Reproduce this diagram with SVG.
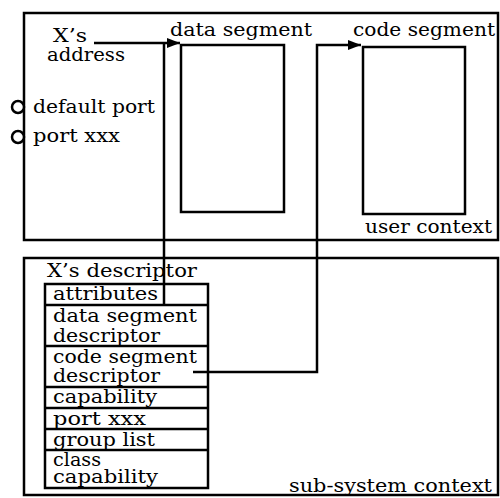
<svg xmlns="http://www.w3.org/2000/svg" width="500" height="498" viewBox="0 0 500 498">
<style>
.t{font-family:"DejaVu Serif","Liberation Serif",serif;font-size:19px;fill:#000}
.box{fill:none;stroke:#000;stroke-width:2.5}
.ln{fill:none;stroke:#000;stroke-width:2.5}
.port{fill:#fff;stroke:#000;stroke-width:2.5}
</style>
<defs>
<marker id="arr" markerWidth="14" markerHeight="10" refX="13" refY="5" orient="auto" markerUnits="userSpaceOnUse">
<path d="M0,0 L13,5 L0,10 Z" fill="#000"/>
</marker>
</defs>
<rect width="500" height="498" fill="#fff"/>
<g id="user-context">
<rect class="box" x="24" y="13" width="474" height="227"/>
<text class="t" x="365" y="233" textLength="127" lengthAdjust="spacingAndGlyphs">user context</text>
</g>
<g id="sub-system-context">
<rect class="box" x="24" y="258" width="474" height="237"/>
<text class="t" x="289" y="492" textLength="203" lengthAdjust="spacingAndGlyphs">sub-system context</text>
</g>
<g id="xs-address">
<text class="t" x="53" y="42" textLength="34" lengthAdjust="spacingAndGlyphs">X’s</text>
<text class="t" x="47" y="61" textLength="78" lengthAdjust="spacingAndGlyphs">address</text>
</g>
<g id="default-port">
<circle class="port" cx="18" cy="107" r="6"/>
<text class="t" x="33" y="113" textLength="122" lengthAdjust="spacingAndGlyphs">default port</text>
</g>
<g id="port-xxx">
<circle class="port" cx="18" cy="137" r="6"/>
<text class="t" x="33" y="142" textLength="87" lengthAdjust="spacingAndGlyphs">port xxx</text>
</g>
<g id="data-segment">
<rect class="box" x="181" y="45" width="103" height="167"/>
<text class="t" x="170" y="36" textLength="142" lengthAdjust="spacingAndGlyphs">data segment</text>
</g>
<g id="code-segment">
<rect class="box" x="363" y="47" width="102" height="167"/>
<text class="t" x="353" y="36" textLength="142" lengthAdjust="spacingAndGlyphs">code segment</text>
</g>
<g id="xs-descriptor">
<text class="t" x="47" y="277" textLength="150" lengthAdjust="spacingAndGlyphs">X’s descriptor</text>
<rect class="box" x="45" y="284" width="163" height="204"/>
<line class="ln" x1="45" y1="305" x2="208" y2="305"/>
<line class="ln" x1="45" y1="346" x2="208" y2="346"/>
<line class="ln" x1="45" y1="387" x2="208" y2="387"/>
<line class="ln" x1="45" y1="408" x2="208" y2="408"/>
<line class="ln" x1="45" y1="429" x2="208" y2="429"/>
<line class="ln" x1="45" y1="450" x2="208" y2="450"/>
<text class="t" x="53" y="300" textLength="105" lengthAdjust="spacingAndGlyphs">attributes</text>
<text class="t" x="53" y="322" textLength="144" lengthAdjust="spacingAndGlyphs">data segment</text>
<text class="t" x="53" y="342" textLength="107" lengthAdjust="spacingAndGlyphs">descriptor</text>
<text class="t" x="53" y="363" textLength="144" lengthAdjust="spacingAndGlyphs">code segment</text>
<text class="t" x="53" y="382" textLength="107" lengthAdjust="spacingAndGlyphs">descriptor</text>
<text class="t" x="53" y="403" textLength="104" lengthAdjust="spacingAndGlyphs">capability</text>
<text class="t" x="53" y="425" textLength="93" lengthAdjust="spacingAndGlyphs">port xxx</text>
<text class="t" x="53" y="446" textLength="102" lengthAdjust="spacingAndGlyphs">group list</text>
<text class="t" x="53" y="466" textLength="48" lengthAdjust="spacingAndGlyphs">class</text>
<text class="t" x="53" y="483" textLength="105" lengthAdjust="spacingAndGlyphs">capability</text>
</g>
<g id="connectors">
<path class="ln" d="M94,43 H180" marker-end="url(#arr)"/>
<path class="ln" d="M164,305 V43"/>
<path class="ln" d="M193,372 H317 V45 H361" marker-end="url(#arr)"/>
</g>
</svg>
